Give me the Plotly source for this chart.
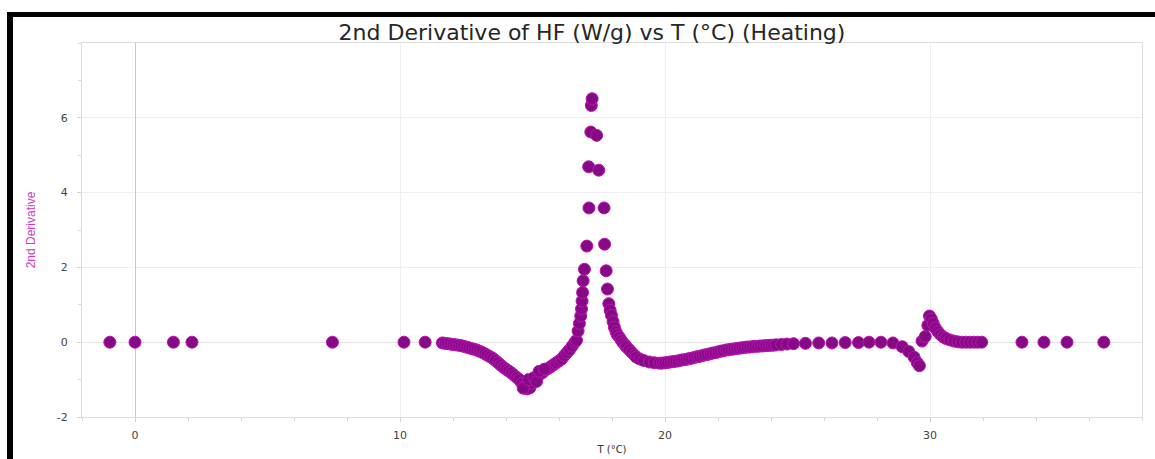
import plotly.graph_objects as go

# Temperature (°C) and second derivative of heat flow, heating run
temp_c = [
    -0.95, 0.0, 1.45, 2.15, 7.45, 10.15, 10.95,
    11.6, 11.7, 11.8, 11.9, 12.0, 12.1, 12.2, 12.3, 12.4, 12.5,
    12.6, 12.7, 12.8, 12.9, 13.0, 13.1, 13.2, 13.3, 13.4, 13.5,
    13.6, 13.7, 13.8, 13.9, 14.0, 14.1, 14.2, 14.3, 14.4, 14.5,
    14.6, 14.7, 14.8, 14.9, 15.0, 15.1, 15.2, 15.3, 15.4, 15.5,
    15.6, 15.7, 15.8, 15.9, 16.0, 16.1, 16.2, 16.3, 16.4, 16.5,
    14.65, 14.85, 15.05, 15.15, 15.25, 15.45,
    16.6, 16.66, 16.72, 16.77, 16.82, 16.85, 16.87, 16.89, 16.91, 16.96,
    17.05, 17.13, 17.12, 17.2, 17.22, 17.25,
    17.42, 17.5, 17.7, 17.72, 17.78, 17.83, 17.88, 17.93, 17.98, 18.04,
    18.09, 18.15, 18.2, 18.28, 18.35, 18.42, 18.5, 18.55, 18.65, 18.75,
    18.85, 18.92, 19.05, 19.2, 19.41, 19.6, 19.79,
    19.9, 20.0, 20.1, 20.2, 20.3, 20.4, 20.5, 20.6, 20.7, 20.8,
    20.9, 21.0, 21.1, 21.2, 21.3, 21.4, 21.5, 21.6, 21.7, 21.8,
    21.9, 22.0, 22.1, 22.2, 22.3, 22.4, 22.5, 22.6, 22.7, 22.8,
    22.9, 23.0, 23.1, 23.2, 23.3, 23.4, 23.5, 23.6, 23.7, 23.8,
    23.9, 24.0, 24.1, 24.2,
    24.4, 24.6, 24.85, 25.3, 25.8, 26.3, 26.8, 27.3, 27.7, 28.15,
    28.6, 28.95, 29.2, 29.4, 29.52, 29.6,
    29.7, 29.82, 29.92, 29.98, 30.05, 30.12, 30.2, 30.3, 30.4, 30.5,
    30.6, 30.75, 30.9, 31.05, 31.2, 31.35, 31.5, 31.65, 31.8, 31.95,
    33.47, 34.3, 35.17, 36.56,
]

second_deriv = [
    0.0, 0.0, 0.0, 0.0, 0.0, 0.0, 0.0,
    -0.02, -0.03, -0.04, -0.05, -0.06, -0.07, -0.08, -0.09, -0.11, -0.13,
    -0.15, -0.17, -0.19, -0.21, -0.24, -0.27, -0.31, -0.35, -0.39, -0.43,
    -0.49, -0.55, -0.61, -0.67, -0.72, -0.77, -0.82, -0.88, -0.94, -1.0,
    -1.1, -1.2, -1.25, -1.22, -1.1, -0.98, -0.9, -0.85, -0.8, -0.73,
    -0.7, -0.65, -0.6, -0.55, -0.5, -0.45, -0.36, -0.28, -0.2, -0.1,
    -1.23, -1.0, -0.95, -1.05, -0.78, -0.72,
    0.0, 0.05, 0.3, 0.5, 0.7, 0.89, 1.1, 1.33, 1.64, 1.95,
    2.57, 3.59, 4.69, 5.62, 6.33, 6.51,
    5.53, 4.6, 3.59, 2.62, 1.91, 1.42, 1.03, 0.85, 0.72, 0.55,
    0.4, 0.28, 0.2, 0.13, 0.05, -0.02, -0.08, -0.13, -0.2, -0.28,
    -0.35, -0.4, -0.45, -0.49, -0.53, -0.55, -0.56,
    -0.56, -0.55, -0.54, -0.53, -0.52, -0.51, -0.5, -0.48, -0.47, -0.46,
    -0.44, -0.43, -0.41, -0.39, -0.38, -0.36, -0.34, -0.33, -0.31, -0.29,
    -0.28, -0.26, -0.24, -0.23, -0.21, -0.2, -0.19, -0.18, -0.17, -0.16,
    -0.15, -0.14, -0.13, -0.13, -0.12, -0.11, -0.11, -0.1, -0.1, -0.09,
    -0.09, -0.08, -0.08, -0.07,
    -0.06, -0.05, -0.04, -0.03, -0.02, -0.02, -0.01, -0.01, 0.0, 0.0,
    -0.02, -0.12, -0.25, -0.4, -0.55, -0.63,
    0.03, 0.15, 0.45, 0.7, 0.62, 0.5, 0.38, 0.28, 0.2, 0.14,
    0.1, 0.06, 0.03, 0.01, 0.0, 0.0, 0.0, 0.0, 0.0, 0.0,
    0.0, 0.0, 0.0, 0.0,
]

x_ticks = [0, 10, 20, 30]
x_tick_labels = ["0", "10", "20", "30"]
y_ticks = [-2, 0, 2, 4, 6]
y_tick_labels = ["-2", "0", "2", "4", "6"]

W, H = 1155, 459
ML, MR, MT, MB = 82, 13, 43, 42
PW, PH = W - ML - MR, H - MT - MB


def px_x(px):
    return (px - ML) / PW


def px_y(py):
    return (H - MB - py) / PH


fig = go.Figure()
fig.add_trace(go.Scatter(
    x=temp_c, y=second_deriv, mode="markers",
    marker=dict(size=12, color="#860a84",
                line=dict(color="#b814b2", width=1)),
    showlegend=False,
))

axis_common = dict(
    showline=True, linecolor="#dcdcdc", linewidth=1, mirror=True,
    gridcolor="#eeeeee", gridwidth=1, automargin=False,
    ticks="outside", tickcolor="#d0d0d0", ticklen=4,
    tickfont=dict(family="DejaVu Sans", size=11, color="#444"),
)

fig.update_layout(
    width=W, height=H,
    margin=dict(l=ML, r=MR, t=MT, b=MB, autoexpand=False),
    paper_bgcolor="white", plot_bgcolor="white",
    title=dict(
        text="2nd Derivative of HF (W/g) vs T (°C) (Heating)",
        x=592 / W, xref="container", xanchor="center",
        y=1 - 32 / H, yref="container", yanchor="middle",
        font=dict(family="DejaVu Sans", size=22, color="#262626"),
    ),
    xaxis=dict(
        range=[-2, 38], tickvals=x_ticks, ticktext=x_tick_labels,
        ticklabelstandoff=4,
        zeroline=True, zerolinecolor="#c8c8c8", zerolinewidth=1,
        minor=dict(dtick=2, ticks="outside", ticklen=3, tickcolor="#d8d8d8",
                   showgrid=False),
        title=dict(text="T (°C)", standoff=4,
                   font=dict(family="DejaVu Sans", size=10, color="#333")),
        **axis_common,
    ),
    yaxis=dict(
        range=[-2, 8], tickvals=y_ticks, ticktext=y_tick_labels,
        ticklabelstandoff=7,
        zeroline=True, zerolinecolor="#e4e4e4", zerolinewidth=1,
        minor=dict(dtick=1, ticks="outside", ticklen=3, tickcolor="#d8d8d8",
                   showgrid=False),
        title=dict(text="2nd Derivative", standoff=18,
                   font=dict(family="Liberation Sans, Arial",
                             size=12, color="#c83cbc")),
        **axis_common,
    ),
)

# Black frame along the top and left edges
fig.add_shape(type="rect", xref="paper", yref="paper",
              x0=px_x(7), x1=px_x(1160), y0=px_y(17), y1=px_y(12),
              fillcolor="black", line_width=0, layer="above")
fig.add_shape(type="rect", xref="paper", yref="paper",
              x0=px_x(7), x1=px_x(13), y0=px_y(465), y1=px_y(12),
              fillcolor="black", line_width=0, layer="above")

fig.write_html("out.html")
